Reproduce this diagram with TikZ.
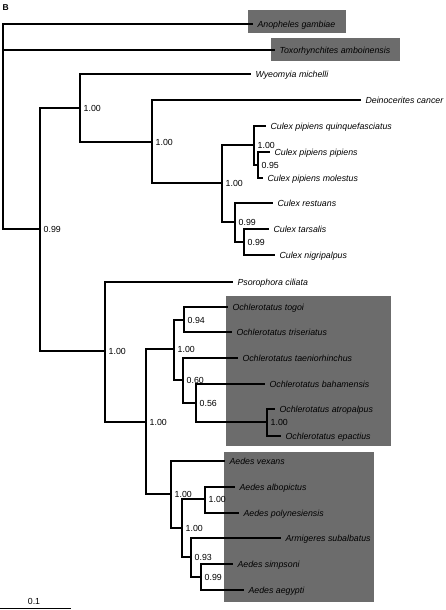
\documentclass[tikz,border=0pt]{standalone}
\usepackage{fontspec}
\setmainfont{Liberation Sans}
\definecolor{boxgray}{RGB}{108,108,108}
\begin{document}
\begin{tikzpicture}[x=1pt,y=-1pt,
  br/.style={line width=1.2pt, line join=miter},
  leaf/.style={anchor=west, inner sep=0pt, outer xsep=4.5pt, text height=6.4pt, text depth=0pt, font=\fontsize{8.8}{10}\selectfont\itshape},
  supp/.style={anchor=west, inner sep=0pt, xshift=3.5pt, text height=6.4pt, text depth=0pt, font=\fontsize{8.8}{10}\selectfont},
  hibox/.style={fill=boxgray, draw=none}]
\useasboundingbox (0,0) rectangle (446,610);

% highlight boxes
\fill[hibox] (248,10) rectangle (346,33);
\fill[hibox] (271,38) rectangle (400,61);
\fill[hibox] (226,296) rectangle (391,446);
\fill[hibox] (224,452) rectangle (374,602);

% panel letter
\node[anchor=north west, inner sep=0pt, font=\fontsize{8.5}{10}\selectfont\bfseries] (panel) at (2.5,4) {B};

% internal nodes
\coordinate (root) at (3,126);
\coordinate (n099) at (40,229);
\coordinate (nA) at (80,108);
\coordinate (nB) at (152,142);
\coordinate (nC) at (222,183);
\coordinate (nD) at (254,145);
\coordinate (nD2) at (258,165);
\coordinate (nE) at (235,222);
\coordinate (nE2) at (244,242);
\coordinate (nF) at (105,351);
\coordinate (nG) at (146,422);
\coordinate (nH) at (174,349);
\coordinate (nH1) at (184,320);
\coordinate (nH2) at (183,380);
\coordinate (nH3) at (196,403);
\coordinate (nH4) at (267,422);
\coordinate (nL) at (171,494);
\coordinate (nM) at (182,528);
\coordinate (nM1) at (205,499);
\coordinate (nM2) at (191,557);
\coordinate (nM3) at (201,577);

% leaves
\node[leaf] (anoph) at (253,24) {Anopheles gambiae};
\node[leaf] (toxo) at (275,50) {Toxorhynchites amboinensis};
\node[leaf] (wyeo) at (251,74) {Wyeomyia michelli};
\node[leaf] (dein) at (361,100) {Deinocerites cancer};
\node[leaf] (quin) at (266,126) {Culex pipiens quinquefasciatus};
\node[leaf] (pipi) at (270,152) {Culex pipiens pipiens};
\node[leaf] (mole) at (263,178) {Culex pipiens molestus};
\node[leaf] (rest) at (273,203) {Culex restuans};
\node[leaf] (tars) at (269,229) {Culex tarsalis};
\node[leaf] (nigr) at (275,255) {Culex nigripalpus};
\node[leaf] (psor) at (233,282) {Psorophora ciliata};
\node[leaf] (togo) at (228,307) {Ochlerotatus togoi};
\node[leaf] (tris) at (232,332) {Ochlerotatus triseriatus};
\node[leaf] (taen) at (238,358) {Ochlerotatus taeniorhinchus};
\node[leaf] (baha) at (265,384) {Ochlerotatus bahamensis};
\node[leaf] (atro) at (275,409) {Ochlerotatus atropalpus};
\node[leaf] (epac) at (281,436) {Ochlerotatus epactius};
\node[leaf] (vexa) at (225,461) {Aedes vexans};
\node[leaf] (albo) at (235,487) {Aedes albopictus};
\node[leaf] (poly) at (239,513) {Aedes polynesiensis};
\node[leaf] (armi) at (281,538) {Armigeres subalbatus};
\node[leaf] (simp) at (233,564) {Aedes simpsoni};
\node[leaf] (aegy) at (244,590) {Aedes aegypti};

% branches
\draw[br] (root) |- (anoph.west);
\draw[br] (root) |- (toxo.west);
\draw[br] (root) |- (n099);
\draw[br] (n099) |- (nA);
\draw[br] (n099) |- (nF);
\draw[br] (nA) |- (wyeo.west);
\draw[br] (nA) |- (nB);
\draw[br] (nB) |- (dein.west);
\draw[br] (nB) |- (nC);
\draw[br] (nC) |- (nD);
\draw[br] (nC) |- (nE);
\draw[br] (nD) |- (quin.west);
\draw[br] (nD) |- (nD2);
\draw[br] (nD2) |- (pipi.west);
\draw[br] (nD2) |- (mole.west);
\draw[br] (nE) |- (rest.west);
\draw[br] (nE) |- (nE2);
\draw[br] (nE2) |- (tars.west);
\draw[br] (nE2) |- (nigr.west);
\draw[br] (nF) |- (psor.west);
\draw[br] (nF) |- (nG);
\draw[br] (nG) |- (nH);
\draw[br] (nG) |- (nL);
\draw[br] (nH) |- (nH1);
\draw[br] (nH) |- (nH2);
\draw[br] (nH1) |- (togo.west);
\draw[br] (nH1) |- (tris.west);
\draw[br] (nH2) |- (taen.west);
\draw[br] (nH2) |- (nH3);
\draw[br] (nH3) |- (baha.west);
\draw[br] (nH3) |- (nH4);
\draw[br] (nH4) |- (atro.west);
\draw[br] (nH4) |- (epac.west);
\draw[br] (nL) |- (vexa.west);
\draw[br] (nL) |- (nM);
\draw[br] (nM) |- (nM1);
\draw[br] (nM) |- (nM2);
\draw[br] (nM1) |- (albo.west);
\draw[br] (nM1) |- (poly.west);
\draw[br] (nM2) |- (armi.west);
\draw[br] (nM2) |- (nM3);
\draw[br] (nM3) |- (simp.west);
\draw[br] (nM3) |- (aegy.west);

% support values
\node[supp] (s099) at (n099) {0.99};
\node[supp] (sA) at (nA) {1.00};
\node[supp] (sB) at (nB) {1.00};
\node[supp] (sC) at (nC) {1.00};
\node[supp] (sD) at (nD) {1.00};
\node[supp] (sD2) at (nD2) {0.95};
\node[supp] (sE) at (nE) {0.99};
\node[supp] (sE2) at (nE2) {0.99};
\node[supp] (sF) at (nF) {1.00};
\node[supp] (sG) at (nG) {1.00};
\node[supp] (sH) at (nH) {1.00};
\node[supp] (sH1) at (nH1) {0.94};
\node[supp] (sH2) at (nH2) {0.60};
\node[supp] (sH3) at (nH3) {0.56};
\node[supp] (sH4) at (nH4) {1.00};
\node[supp] (sL) at (nL) {1.00};
\node[supp] (sM) at (nM) {1.00};
\node[supp] (sM1) at (nM1) {1.00};
\node[supp] (sM2) at (nM2) {0.93};
\node[supp] (sM3) at (nM3) {0.99};

% scale bar
\coordinate (sb1) at (0,608);
\coordinate (sb2) at (71,608);
\draw[line width=1pt] (sb1) -- (sb2);
\node[anchor=base, inner sep=0pt, font=\fontsize{8.8}{10}\selectfont] (sbl) at (34,604.5) {0.1};
\end{tikzpicture}
\end{document}
